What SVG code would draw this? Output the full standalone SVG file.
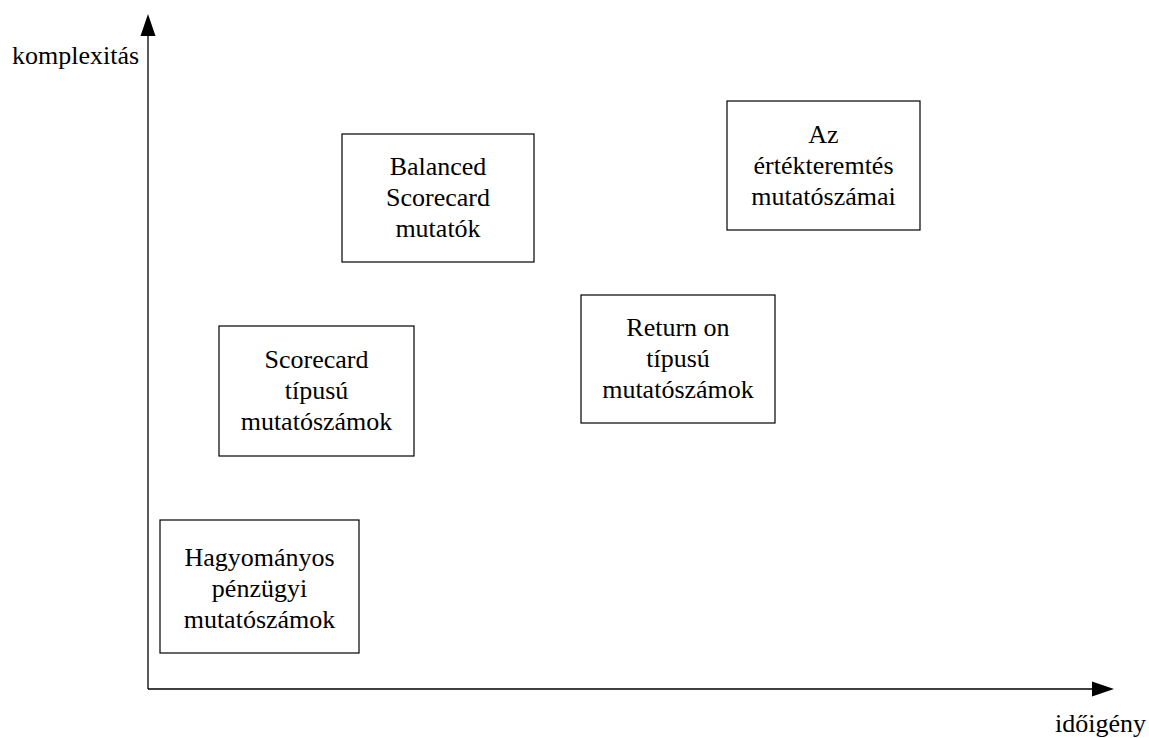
<svg xmlns="http://www.w3.org/2000/svg" width="1149" height="738" viewBox="0 0 1149 738">
<style>
.box{fill:#fff;stroke:#000;stroke-width:1.2}
.t{font-family:"Liberation Serif","Times New Roman",serif;font-size:26px;fill:#000;text-anchor:middle}
.lbl{font-family:"Liberation Serif","Times New Roman",serif;font-size:26px;fill:#000}
.ax{stroke:#000;stroke-width:1.3;fill:none}
</style>
<rect width="1149" height="738" fill="#fff"/>
<g id="connectors">
<line class="ax" x1="148" y1="689" x2="148" y2="34"/>
<polygon points="148,14 140.5,36 155.5,36" fill="#000"/>
<line class="ax" x1="148" y1="689" x2="1093" y2="689"/>
<polygon points="1114,689 1092,681.5 1092,696.5" fill="#000"/>
</g>
<g id="axis-y-label"><text class="lbl" x="12" y="64">komplexitás</text></g>
<g id="axis-x-label"><text class="lbl" x="1055" y="732">időigény</text></g>
<g id="balanced">
<rect class="box" x="342" y="134" width="192" height="128"/>
<text class="t" x="438" y="175">Balanced</text>
<text class="t" x="438" y="206">Scorecard</text>
<text class="t" x="438" y="237">mutatók</text>
</g>
<g id="az">
<rect class="box" x="727" y="101" width="193" height="129"/>
<text class="t" x="823.5" y="143">Az</text>
<text class="t" x="823.5" y="174">értékteremtés</text>
<text class="t" x="823.5" y="205">mutatószámai</text>
</g>
<g id="scorecard">
<rect class="box" x="219" y="326" width="195" height="130"/>
<text class="t" x="316.5" y="368">Scorecard</text>
<text class="t" x="316.5" y="399">típusú</text>
<text class="t" x="316.5" y="430">mutatószámok</text>
</g>
<g id="return">
<rect class="box" x="581" y="295" width="194" height="128"/>
<text class="t" x="678" y="336">Return on</text>
<text class="t" x="678" y="367">típusú</text>
<text class="t" x="678" y="398">mutatószámok</text>
</g>
<g id="hagyomanyos">
<rect class="box" x="160" y="520" width="199" height="133"/>
<text class="t" x="259.5" y="566">Hagyományos</text>
<text class="t" x="259.5" y="597">pénzügyi</text>
<text class="t" x="259.5" y="628">mutatószámok</text>
</g>
</svg>
